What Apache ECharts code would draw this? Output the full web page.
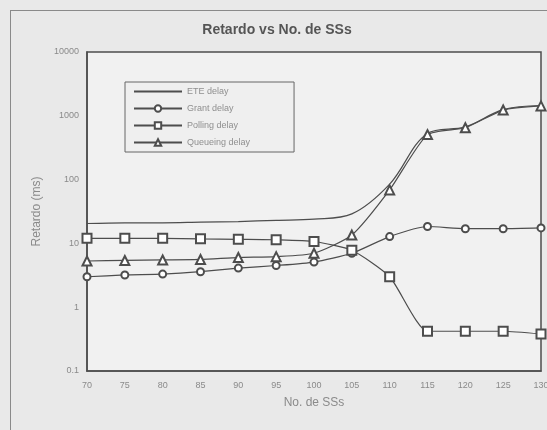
<!DOCTYPE html>
<html>
<head>
<meta charset="utf-8">
<script src="https://cdn.jsdelivr.net/npm/echarts@6/dist/echarts.min.js"></script>
<style>
  html, body { margin: 0; padding: 0; background: #e9e9e9; overflow: hidden; }
  #frame { position: absolute; left: 10px; top: 10px; width: 537px; height: 420px; border-left: 1px solid #8a8a8a; border-top: 1px solid #8a8a8a; box-sizing: border-box; }
  #chart { position: absolute; left: 0; top: 0; width: 547px; height: 430px; }
</style>
</head>
<body>
<div id="frame"></div>
<div id="chart"></div>
<script>
// Number of subscriber stations (x axis)
const numSS = ['70', '75', '80', '85', '90', '95', '100', '105', '110', '115', '120', '125', '130'];

// Delay components in ms
const eteDelay      = [20.5, 21, 21, 21.5, 22, 23, 24, 29, 85, 530, 670, 1250, 1450];
const grantDelay    = [3.0, 3.2, 3.3, 3.6, 4.1, 4.5, 5.1, 7.0, 12.8, 18.4, 17, 17, 17.5];
const pollingDelay  = [12, 12, 12, 11.8, 11.6, 11.4, 10.7, 7.8, 3.0, 0.42, 0.42, 0.42, 0.38];
const queueingDelay = [5.3, 5.4, 5.5, 5.6, 6.0, 6.2, 7.0, 13.5, 69, 507, 650, 1230, 1430];

const yTicks = ['0.1', '1', '10', '100', '1000', '10000'];

const ink = '#4d4d4d';
const font = 'Liberation Sans, Arial, sans-serif';

const chart = echarts.init(document.getElementById('chart'), null, { renderer: 'canvas' });

function lineSeries(name, data, symbol, size, smooth) {
  return {
    name: name,
    type: 'line',
    data: data,
    symbol: symbol,
    symbolSize: size,
    showSymbol: symbol !== 'none',
    smooth: smooth,
    lineStyle: { color: ink, width: 1.2 },
    itemStyle: { color: ink, borderColor: ink, borderWidth: 1.2 },
    emphasis: { disabled: true }
  };
}

chart.setOption({
  backgroundColor: 'transparent',
  animation: false,
  title: {
    text: 'Retardo vs No. de SSs',
    left: 272,
    top: 18,
    textAlign: 'center',
    textStyle: { fontFamily: font, fontSize: 14, fontWeight: 'bold', color: '#555' }
  },
  legend: {
    orient: 'vertical',
    left: 125,
    top: 82,
    padding: [5, 44, 5, 8],
    itemGap: 8,
    itemWidth: 48,
    itemHeight: 8,
    borderColor: '#666',
    borderWidth: 1,
    backgroundColor: '#efefef',
    textStyle: { fontFamily: font, fontSize: 9, color: '#8f8f8f' },
    data: [
      { name: 'ETE delay', itemStyle: { opacity: 0 } },
      'Grant delay', 'Polling delay', 'Queueing delay'
    ]
  },
  grid: {
    left: 87, right: 6, top: 52, bottom: 59,
    outerBoundsMode: 'none',
    containLabel: false,
    show: true,
    backgroundColor: '#f1f1f1',
    borderColor: ink,
    borderWidth: 1.5
  },
  xAxis: {
    type: 'category',
    data: numSS,
    boundaryGap: false,
    name: 'No. de SSs',
    nameLocation: 'middle',
    nameGap: 26,
    nameTextStyle: { fontFamily: font, fontSize: 12, color: '#8a8a8a' },
    axisLine: { lineStyle: { color: ink, width: 1.5 } },
    axisTick: { show: false },
    axisLabel: { fontFamily: font, fontSize: 9, color: '#8a8a8a', margin: 10 },
    splitLine: { show: false }
  },
  yAxis: {
    type: 'log',
    logBase: 10,
    min: 0.1,
    max: 10000,
    name: 'Retardo (ms)',
    nameLocation: 'middle',
    nameGap: 44,
    nameTextStyle: { fontFamily: font, fontSize: 12, color: '#8a8a8a' },
    axisLine: { show: true, lineStyle: { color: ink, width: 1.5 } },
    axisTick: { show: false },
    axisLabel: {
      fontFamily: font, fontSize: 9, color: '#8a8a8a', margin: 8,
      formatter: function (v) {
        const s = String(+v.toPrecision(3));
        return yTicks.indexOf(s) >= 0 ? s : '';
      }
    },
    splitLine: { show: false }
  },
  series: [
    lineSeries('ETE delay', eteDelay, 'none', 0, 0.35),
    lineSeries('Grant delay', grantDelay, 'emptyCircle', 7, 0.2),
    lineSeries('Polling delay', pollingDelay, 'emptyRect', 9, 0.2),
    lineSeries('Queueing delay', queueingDelay, 'emptyTriangle', 9, 0.2)
  ]
});
</script>
</body>
</html>
